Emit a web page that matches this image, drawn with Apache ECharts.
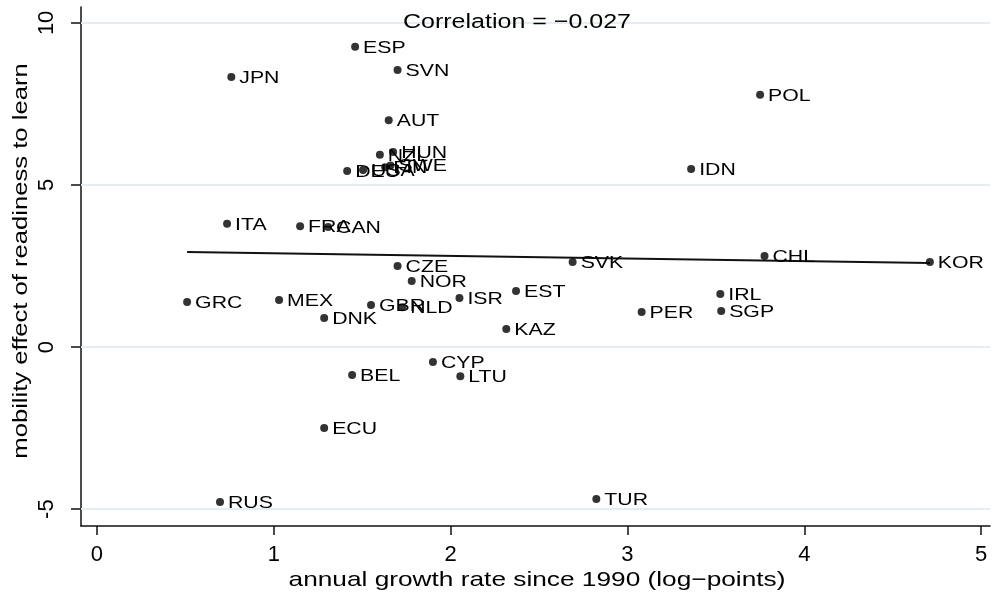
<!DOCTYPE html>
<html>
<head>
<meta charset="utf-8">
<script src="https://cdn.jsdelivr.net/npm/echarts@6/dist/echarts.min.js"></script>
<style>
  html, body { margin: 0; padding: 0; background: #fff; }
  #chart { width: 993px; height: 596px; }
</style>
</head>
<body>
<div id="chart"></div>
<script>
// Country codes with growth (x) and mobility effect (y)
const countries = ['ESP','JPN','SVN','POL','AUT','HUN','NZL','DEU','USA','FIN','SWE','IDN',
  'ITA','FRA','CAN','CZE','NOR','EST','SVK','CHL','KOR','GRC','MEX','GBR','NLD','ISR',
  'DNK','KAZ','PER','IRL','SGP','CYP','LTU','BEL','ECU','RUS','TUR'];
const growth = [1.46,0.76,1.70,3.75,1.65,1.675,1.60,1.415,1.505,1.63,1.66,3.36,
  0.736,1.149,1.307,1.70,1.78,2.37,2.69,3.775,4.71,0.51,1.03,1.55,1.726,2.05,
  1.285,2.315,3.08,3.525,3.53,1.90,2.055,1.443,1.285,0.696,2.824];
const mobility = [9.26,8.33,8.55,7.78,7.00,6.02,5.93,5.43,5.46,5.55,5.60,5.49,
  3.80,3.73,3.70,2.50,2.04,1.73,2.62,2.81,2.62,1.39,1.45,1.30,1.23,1.51,
  0.90,0.56,1.08,1.64,1.11,-0.46,-0.90,-0.86,-2.50,-4.78,-4.69];

// Linear fit endpoints
const fitX = [0.51, 4.71];
const fitY = [2.93, 2.59];

const xTicks = [0, 1, 2, 3, 4, 5];
const yTicks = [-5, 0, 5, 10];
const correlationText = 'Correlation = \u22120.027';
const xTitle = 'annual growth rate since 1990 (log\u2212points)';
const yTitle = 'mobility effect of readiness to learn';

const FONT = '"Liberation Sans", Arial, Helvetica, sans-serif';
const WIDE = 1.25; // horizontal stretch of the text glyphs

const points = countries.map((c, i) => [growth[i], mobility[i]]);

const chart = echarts.init(document.getElementById('chart'), null, { renderer: 'canvas' });
chart.setOption({
  animation: false,
  backgroundColor: '#ffffff',
  graphic: [
    {
      type: 'text', x: 517, y: 22, scaleX: 1.22, z: 10,
      style: { text: correlationText, fontFamily: FONT, fontSize: 20.5, fill: '#000',
               align: 'center', verticalAlign: 'middle' }
    },
    {
      type: 'text', x: 537, y: 580, scaleX: WIDE,
      style: { text: xTitle, fontFamily: FONT, fontSize: 21, fill: '#000',
               align: 'center', verticalAlign: 'middle' }
    },
    {
      type: 'text', x: 21, y: 261, rotation: Math.PI / 2, scaleX: 1.22,
      style: { text: yTitle, fontFamily: FONT, fontSize: 21, fill: '#000',
               align: 'center', verticalAlign: 'middle' }
    }
  ],
  grid: { left: 81, right: 3, top: 7, bottom: 70, containLabel: false },
  xAxis: {
    type: 'value',
    min: -0.09,
    max: 5.05,
    axisLine: { show: true, onZero: false, lineStyle: { color: '#111', width: 1.5 } },
    axisTick: { show: true, customValues: xTicks, length: 9, lineStyle: { color: '#111', width: 1.5 } },
    axisLabel: { customValues: xTicks, fontFamily: FONT, fontSize: 22, color: '#000', margin: 18 },
    splitLine: { show: false }
  },
  yAxis: {
    type: 'value',
    min: -5.52,
    max: 10.49,
    axisLine: { show: true, onZero: false, lineStyle: { color: '#111', width: 1.5 } },
    axisTick: { show: true, customValues: yTicks, length: 10, lineStyle: { color: '#111', width: 1.5 } },
    axisLabel: { customValues: yTicks, rotate: 90, fontFamily: FONT, fontSize: 22, color: '#000', margin: 23 },
    splitLine: { show: false }
  },
  series: [
    {
      type: 'line',
      data: [],
      silent: true,
      markLine: {
        silent: true,
        symbol: 'none',
        label: { show: false },
        lineStyle: { color: '#e4eef0', width: 2, type: 'solid' },
        data: yTicks.map(v => ({ yAxis: v }))
      },
      z: 1
    },
    {
      type: 'line',
      data: fitX.map((x, i) => [x, fitY[i]]),
      showSymbol: false,
      lineStyle: { color: '#111', width: 2 },
      z: 3
    },
    {
      type: 'scatter',
      data: points,
      symbol: 'circle',
      symbolSize: 8,
      itemStyle: { color: '#000' },
      z: 4
    },
    {
      // country code labels beside each point
      type: 'custom',
      data: points,
      z: 5,
      renderItem: function (params, api) {
        const p = api.coord([api.value(0), api.value(1)]);
        return {
          type: 'text',
          x: p[0] + 8,
          y: p[1] + 1,
          scaleX: WIDE,
          style: {
            text: countries[params.dataIndex],
            fontFamily: FONT,
            fontSize: 17,
            fill: '#000',
            align: 'left',
            verticalAlign: 'middle'
          }
        };
      }
    }
  ]
});
</script>
</body>
</html>
